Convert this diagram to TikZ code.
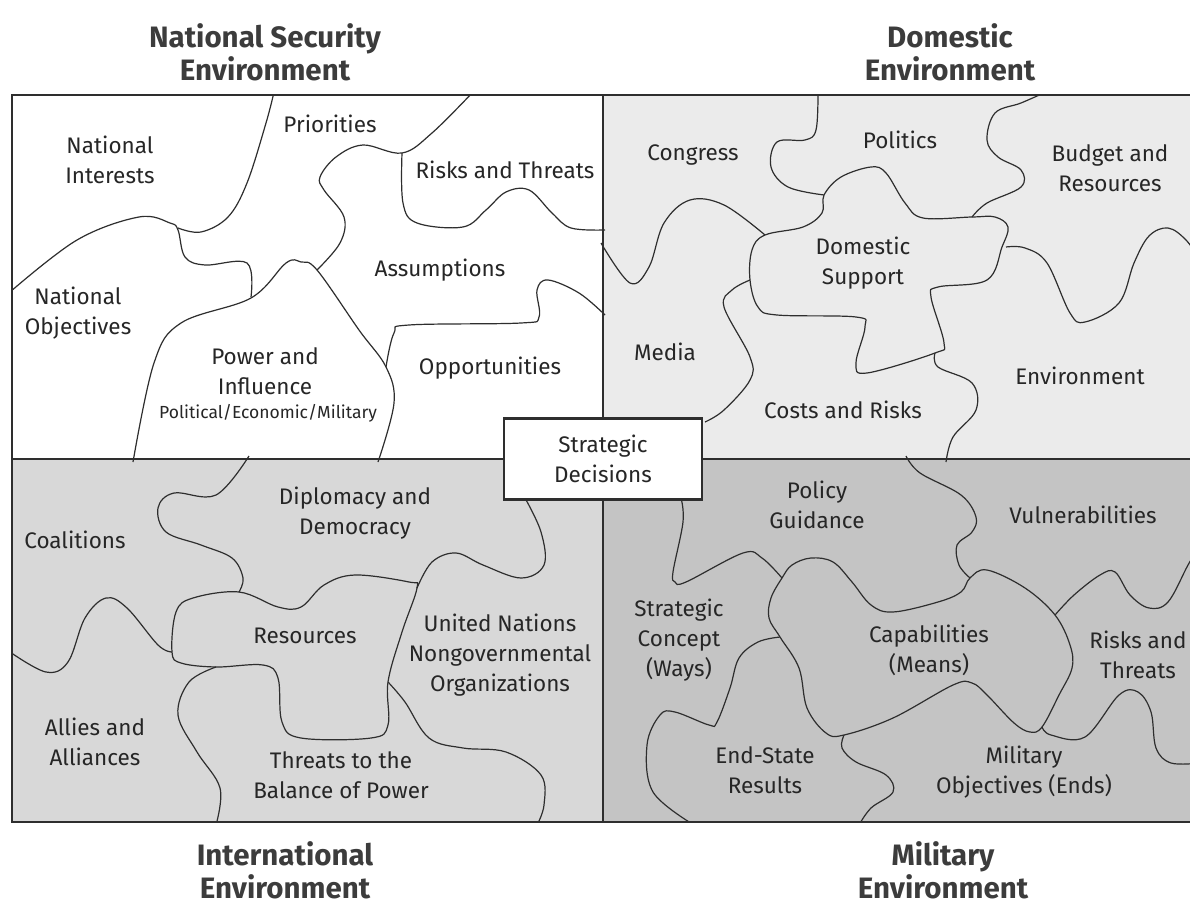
\documentclass[tikz,border=0pt]{standalone}
\usepackage{fontspec}
\setmainfont{Fira Sans}
\usepackage{tikz}
\usetikzlibrary{positioning, calc}
\definecolor{quadlight}{HTML}{EBEBEB}
\definecolor{quadmid}{HTML}{D8D8D8}
\definecolor{quaddark}{HTML}{C4C4C4}
\definecolor{seamgray}{HTML}{2E2E2E}
\definecolor{inkgray}{HTML}{262626}

\begin{document}
\begin{tikzpicture}[
    x=1pt, y=-1pt,
    every node/.style={inner sep=0pt},
    piece/.style={font=\fontsize{22.5}{30}\selectfont, align=center, text=inkgray},
    heading/.style={font=\fontsize{29.5}{33}\selectfont\bfseries, align=center, text=inkgray!90},
    seam/.style={line width=1.2pt, seamgray, smooth, tension=0.6},
    frame/.style={line width=2.4pt, seamgray}
]
    \useasboundingbox (0,0) rectangle (1190,907);

    % quadrant backgrounds
    \fill[white] (12,95) rectangle (603,459);
    \fill[quadlight] (603,95) rectangle (1195,459);
    \fill[quadmid] (12,459) rectangle (603,822);
    \fill[quaddark] (603,459) rectangle (1195,822);

    \begin{scope}
    \clip (12,95) rectangle (1195,822);
    % national security environment
    \draw[seam] plot coordinates {(274,92) (266,123) (247,183) (228,217) (201,232) (178,228)};
    \draw[seam] plot coordinates {(10,292) (77,240) (139,217) (170,223) (178,230) (185,257) (205,265) (247,263) (251,297)};
    \draw[seam] plot coordinates {(133,462) (154,363) (181,323) (251,298) (286,263) (301,262) (317,270) (359,330) (386,367) (394,403) (378,462)};
    \draw[seam] plot coordinates {(317,270) (340,243) (344,217) (324,190) (320,177) (336,157) (363,145) (402,153) (432,133) (473,92)};
    \draw[seam] plot coordinates {(402,153) (403,203) (417,223) (463,227) (486,210) (506,192) (529,190) (552,213) (571,228) (605,230)};
    \draw[seam] plot coordinates {(386,367) (394,333) (409,325) (521,323) (539,317) (537,290) (548,280) (579,293) (605,315)};
    % domestic environment
    \draw[seam] plot coordinates {(818,92) (816,130) (805,140) (777,142) (771,167) (788,187) (824,195)};
    \draw[seam] plot[smooth cycle] coordinates {(824,195) (822,213) (803,227) (765,235) (752,250) (750,280) (758,307) (777,315) (856,317) (865,327) (856,363) (867,373) (935,353) (944,343) (931,297) (938,287) (987,280) (1002,247) (1008,227) (995,217) (972,217) (923,218) (905,203) (886,173) (871,167) (841,177)};
    \draw[seam] plot coordinates {(1046,92) (1021,103) (995,113) (987,140) (998,157) (1021,170) (1021,187) (987,203) (972,217)};
    \draw[seam] plot coordinates {(601,243) (630,283) (649,267) (664,223) (690,200) (724,205) (765,235)};
    \draw[seam] plot coordinates {(750,280) (732,290) (724,307) (750,357) (750,380) (724,410) (705,422)};
    \draw[seam] plot coordinates {(935,353) (938,367) (972,383) (976,410) (953,437) (946,462)};
    \draw[seam] plot coordinates {(1006,247) (1025,248) (1047,263) (1070,313) (1085,322) (1119,303) (1134,263) (1149,236) (1168,228) (1186,240) (1200,260)};
    % international environment
    \draw[seam] plot coordinates {(249,456) (216,495) (174,493) (158,508) (166,532) (201,545) (232,558) (243,578) (239,592)};
    \draw[seam] plot[smooth cycle] coordinates {(239,592) (193,598) (176,612) (172,652) (181,663) (216,667) (263,665) (278,678) (282,722) (301,738) (371,738) (388,725) (388,682) (402,632) (417,588) (409,582) (355,575) (324,585) (301,607) (278,607)};
    \draw[seam] plot coordinates {(525,498) (541,532) (544,565) (521,578) (483,565) (456,553) (432,562) (417,588)};
    \draw[seam] plot coordinates {(10,652) (46,672) (68,662) (85,618) (106,598) (127,608) (158,645) (172,652)};
    \draw[seam] plot coordinates {(216,667) (189,682) (178,715) (197,752) (220,788) (216,825)};
    \draw[seam] plot coordinates {(388,682) (405,702) (429,738) (463,748) (506,752) (541,775) (544,805) (537,825)};
    % military environment
    \draw[seam] plot coordinates {(681,498) (683,522) (673,572) (675,582) (686,582) (743,553) (762,558) (782,578)};
    \draw[seam] plot[smooth cycle] coordinates {(782,578) (771,598) (769,618) (780,637) (799,668) (807,708) (826,733) (844,735) (893,718) (953,685) (972,683) (987,695) (1014,723) (1030,732) (1042,727) (1059,695) (1072,668) (1070,645) (1055,615) (1025,588) (987,570) (970,578) (961,592) (938,602) (893,612) (871,605) (852,582) (833,562) (811,558) (792,565)};
    \draw[seam] plot coordinates {(906,456) (920,473) (961,495) (976,517) (972,532) (957,545) (959,565) (970,578)};
    \draw[seam] plot coordinates {(1055,615) (1074,595) (1100,575) (1115,572) (1130,595) (1149,608) (1168,602) (1188,565) (1200,545)};
    \draw[seam] plot coordinates {(1042,727) (1051,735) (1085,737) (1119,695) (1138,692) (1151,712) (1156,748) (1171,763) (1200,763)};
    \draw[seam] plot coordinates {(780,637) (758,642) (739,658) (730,688) (717,722) (709,725) (675,712) (660,715) (647,745) (653,792) (694,825)};
    \draw[seam] plot coordinates {(844,735) (842,748) (856,762) (886,775) (893,792) (871,808) (859,825)};
    \end{scope}

    % frame and quadrant lines
    \draw[frame] (12,95) rectangle (1195,822);
    \draw[frame] (603,95) -- (603,822);
    \draw[frame] (12,459) -- (1195,459);

    \node[draw=seamgray, line width=2.4pt, fill=white, minimum width=198pt, minimum height=81pt] (decide) at (603,459) {};
    \node[piece] (decidetext) at (decide.center) {Strategic\\Decisions};

    % headings
    \node[heading] (natsec) at (265,52) {National Security\\Environment};
    \node[heading] (domestic) at (950,52) {Domestic\\Environment};
    \node[heading] (intl) at (285,870) {International\\Environment};
    \node[heading] (military) at (943,870) {Military\\Environment};

    % national security pieces
    \node[piece] (natint) at (110,160) {National\\Interests};
    \node[piece] (prio) at (330,124) {Priorities};
    \node[piece] (risksns) at (505,170) {Risks and Threats};
    \node[piece] (assum) at (440,270) {Assumptions};
    \node[piece] (natobj) at (78,313) {National\\Objectives};
    \node[piece] (power) at (265,371) {Power and\\Influence};
    \node[piece, font=\fontsize{17.5}{20}\selectfont] (powersub) at (268,413) {Political/Economic/Military};
    \node[piece] (opp) at (490,368) {Opportunities};

    % domestic pieces
    \node[piece] (congress) at (693,155) {Congress};
    \node[piece] (politics) at (900,140) {Politics};
    \node[piece] (budget) at (1110,168) {Budget and\\Resources};
    \node[piece] (domsup) at (863,263) {Domestic\\Support};
    \node[piece] (media) at (665,352) {Media};
    \node[piece] (costs) at (843,410) {Costs and Risks};
    \node[piece] (envdom) at (1080,376) {Environment};

    % international pieces
    \node[piece] (coal) at (75,540) {Coalitions};
    \node[piece] (diplo) at (355,513) {Diplomacy and\\Democracy};
    \node[piece] (resource) at (305,636) {Resources};
    \node[piece] (unngo) at (500,655) {United Nations\\Nongovernmental\\Organizations};
    \node[piece] (allies) at (95,742) {Allies and\\Alliances};
    \node[piece] (threats) at (341,775) {Threats to the\\Balance of Power};

    % military pieces
    \node[piece] (policy) at (817,505) {Policy\\Guidance};
    \node[piece] (vuln) at (1083,515) {Vulnerabilities};
    \node[piece] (stratcon) at (679,640) {Strategic\\Concept\\(Ways)};
    \node[piece] (capab) at (929,650) {Capabilities\\(Means)};
    \node[piece] (risksmil) at (1138,655) {Risks and\\Threats};
    \node[piece] (endstate) at (765,770) {End-State\\Results};
    \node[piece] (milobj) at (1024,772) {Military\\Objectives (Ends)};
\end{tikzpicture}
\end{document}
